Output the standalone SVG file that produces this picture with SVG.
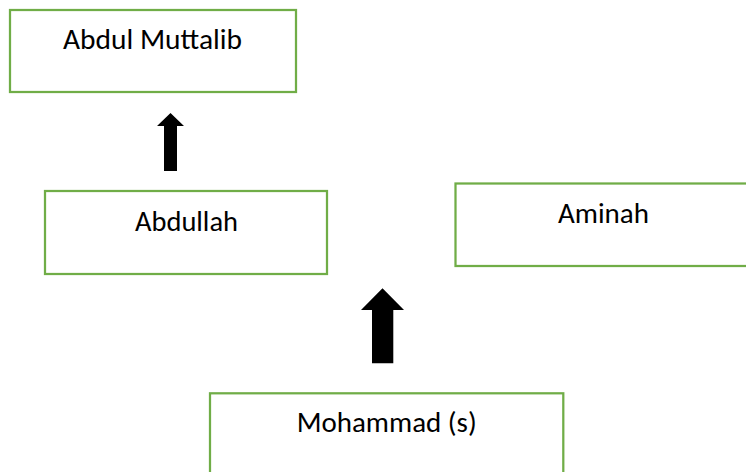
<svg xmlns="http://www.w3.org/2000/svg" width="746" height="472" viewBox="0 0 746 472">
<style>
.box{fill:#ffffff;stroke:#70AD47;stroke-width:2.25}
.lbl{font-family:Calibri,Carlito,"Liberation Sans",Arial,sans-serif;font-size:28px;fill:#000000;text-anchor:middle}
.arr{fill:#000000}
</style>
<rect width="746" height="472" fill="#ffffff"/>
<g id="node-abdul-muttalib">
<rect class="box" x="10" y="10" width="286" height="82"/>
<text class="lbl" x="152.5" y="48.5" textLength="179" lengthAdjust="spacingAndGlyphs">Abdul Muttalib</text>
</g>
<g id="node-abdullah">
<rect class="box" x="45" y="191" width="282" height="83"/>
<text class="lbl" x="186.5" y="231" textLength="103" lengthAdjust="spacingAndGlyphs">Abdullah</text>
</g>
<g id="node-aminah">
<rect class="box" x="455.5" y="183.5" width="297" height="82.5"/>
<text class="lbl" x="603.5" y="222.7" textLength="91" lengthAdjust="spacingAndGlyphs">Aminah</text>
</g>
<g id="node-mohammad">
<rect class="box" x="210" y="393.3" width="353.3" height="90"/>
<text class="lbl" x="386.7" y="431.7" textLength="180" lengthAdjust="spacingAndGlyphs">Mohammad (s)</text>
</g>
<g id="connectors">
<polygon class="arr" points="164,171 177,171 177,126 184,126 170.5,113 157,126 164,126"/>
<polygon class="arr" points="372,363.3 393.3,363.3 393.3,310 404,310 382.5,288.3 361,310 372,310"/>
</g>
</svg>
